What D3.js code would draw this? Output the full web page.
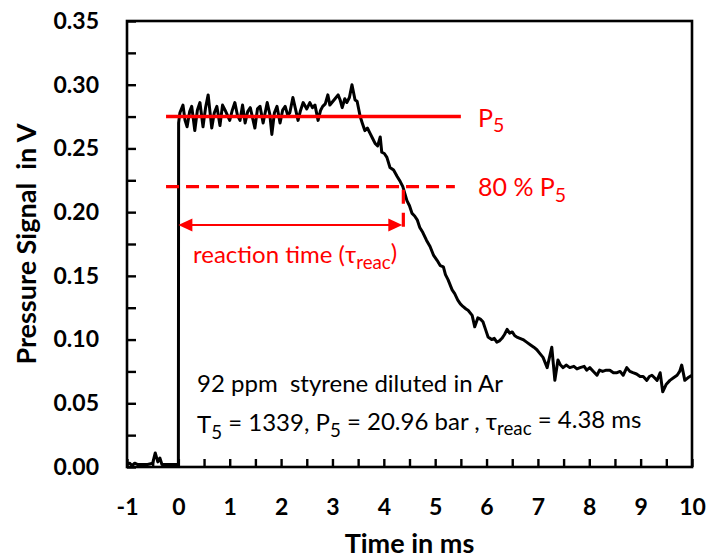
<!DOCTYPE html>
<html>
<head>
<meta charset="utf-8">
<script src="https://cdn.jsdelivr.net/npm/d3@7"></script>
<style>
  body { margin: 0; background: #fff; }
  svg { display: block; font-family: Lato, "Open Sans", sans-serif; }
  text { white-space: pre; }
</style>
</head>
<body>
<div id="chart"></div>
<script>
var width = 707,
    height = 559;

var margin = { top: 21, right: 15, bottom: 92, left: 127 };

// pressure trace
var timeMs = [
  -1.00, -0.95, -0.90, -0.85, -0.80, -0.70, -0.60, -0.50, -0.45, -0.40, -0.36, -0.32, -0.20, -0.05, 0.00,
  0.005, 0.03, 0.09, 0.13, 0.17, 0.22, 0.26, 0.32, 0.37, 0.42, 0.48, 0.53, 0.58, 0.65, 0.70, 0.75, 0.81, 0.86, 0.91,
  1.00, 1.05, 1.10, 1.15, 1.20, 1.25, 1.30, 1.35, 1.40, 1.45, 1.49, 1.54, 1.59, 1.65, 1.73, 1.78, 1.82, 1.87, 1.92, 1.98,
  2.03, 2.08, 2.13, 2.17, 2.23, 2.28, 2.33, 2.38, 2.43, 2.50, 2.56, 2.61, 2.66, 2.72, 2.77, 2.81, 2.86, 2.91, 2.95, 2.99,
  3.05, 3.11, 3.15, 3.19, 3.24, 3.28, 3.33, 3.38, 3.44, 3.48, 3.54, 3.58, 3.63, 3.68, 3.73, 3.78, 3.83, 3.88, 3.93, 3.96,
  4.01, 4.06, 4.12, 4.19, 4.26, 4.32, 4.37, 4.45, 4.50, 4.55, 4.60, 4.65, 4.70, 4.76, 4.83, 4.90, 4.97,
  5.04, 5.10, 5.16, 5.20, 5.25, 5.33, 5.38, 5.44, 5.49, 5.54, 5.60, 5.64, 5.72, 5.77, 5.83, 5.88, 5.93, 5.98,
  6.03, 6.10, 6.15, 6.20, 6.25, 6.30, 6.35, 6.40, 6.45, 6.50, 6.55, 6.59, 6.65, 6.71, 6.78, 6.85, 6.92, 6.98,
  7.04, 7.10, 7.18, 7.27, 7.33, 7.39, 7.44, 7.49, 7.55, 7.62, 7.70, 7.76, 7.82, 7.90, 7.95,
  8.01, 8.08, 8.15, 8.20, 8.26, 8.33, 8.40, 8.47, 8.54, 8.60, 8.66, 8.73, 8.79, 8.85, 8.92, 8.99,
  9.05, 9.12, 9.17, 9.22, 9.27, 9.32, 9.38, 9.43, 9.50, 9.57, 9.64, 9.71, 9.76, 9.80, 9.86, 9.92, 9.96, 10.00
];
var signalV = [
  0.002, 0.003, 0.001, 0.003, 0.002, 0.002, 0.002, 0.003, 0.011, 0.004, 0.007, 0.002, 0.002, 0.002, 0.002,
  0.270, 0.278, 0.284, 0.272, 0.267, 0.279, 0.283, 0.264, 0.280, 0.286, 0.267, 0.282, 0.292, 0.266, 0.278, 0.283, 0.268, 0.284, 0.280,
  0.272, 0.280, 0.286, 0.276, 0.272, 0.284, 0.270, 0.279, 0.282, 0.273, 0.266, 0.281, 0.283, 0.270, 0.286, 0.277, 0.261, 0.278, 0.283, 0.270,
  0.280, 0.283, 0.276, 0.278, 0.290, 0.281, 0.272, 0.280, 0.286, 0.281, 0.286, 0.282, 0.284, 0.272, 0.280, 0.283, 0.285, 0.292, 0.284, 0.286,
  0.289, 0.292, 0.288, 0.282, 0.289, 0.286, 0.290, 0.300, 0.288, 0.287, 0.275, 0.270, 0.264, 0.266, 0.262, 0.258, 0.254, 0.252, 0.259, 0.247,
  0.246, 0.243, 0.235, 0.233, 0.228, 0.224, 0.220, 0.209, 0.205, 0.199, 0.197, 0.194, 0.188, 0.184, 0.178, 0.173, 0.166,
  0.162, 0.158, 0.157, 0.151, 0.147, 0.139, 0.136, 0.131, 0.128, 0.126, 0.124, 0.123, 0.119, 0.110, 0.117, 0.116, 0.114, 0.108,
  0.102, 0.100, 0.101, 0.098, 0.099, 0.101, 0.104, 0.108, 0.105, 0.106, 0.103, 0.102, 0.101, 0.100, 0.098, 0.096, 0.094, 0.092,
  0.089, 0.086, 0.078, 0.094, 0.068, 0.084, 0.080, 0.078, 0.080, 0.078, 0.079, 0.077, 0.078, 0.079, 0.076,
  0.078, 0.075, 0.072, 0.076, 0.075, 0.076, 0.076, 0.074, 0.074, 0.075, 0.072, 0.078, 0.075, 0.074, 0.073, 0.071,
  0.071, 0.068, 0.071, 0.072, 0.070, 0.068, 0.074, 0.059, 0.065, 0.068, 0.070, 0.072, 0.075, 0.080, 0.068, 0.070, 0.071, 0.072
];

// axis ticks
var xTicks = [-1, 0, 1, 2, 3, 4, 5, 6, 7, 8, 9, 10];
var xMinorTicks = [-0.5, 0.5, 1.5, 2.5, 3.5, 4.5, 5.5, 6.5, 7.5, 8.5, 9.5];
var yTicks = [0, 0.05, 0.10, 0.15, 0.20, 0.25, 0.30, 0.35];
var yMinorTicks = [0.025, 0.075, 0.125, 0.175, 0.225, 0.275, 0.325];

// annotation values
var p5Level = 0.275;
var p80Level = 0.22;
var tauReac = 4.38;
var arrowLevel = 0.19;
var refLineStart = -0.24;
var refLineEnd = 5.5;

var w = width - margin.left - margin.right,
    h = height - margin.top - margin.bottom;

var x = d3.scaleLinear().domain([-1, 10]).range([0, w]);
var y = d3.scaleLinear().domain([0, 0.35]).range([h, 0]);

var svg = d3.select("#chart").append("svg")
    .attr("width", width)
    .attr("height", height);

var g = svg.append("g")
    .attr("transform", "translate(" + margin.left + "," + margin.top + ")");

// trace
var data = timeMs.map(function(t, i) { return [t, signalV[i]]; });

g.append("path")
    .datum(data)
    .attr("fill", "none")
    .attr("stroke", "#000")
    .attr("stroke-width", 3)
    .attr("stroke-linejoin", "round")
    .attr("d", d3.line().x(function(d) { return x(d[0]); }).y(function(d) { return y(d[1]); }));

// axes, ticks pointing inward
var xAxis = g.append("g")
    .attr("transform", "translate(0," + h + ")")
    .call(d3.axisBottom(x).tickValues(xTicks).tickSize(-8).tickSizeOuter(0).tickPadding(31)
      .tickFormat(function(d) { return String(d); }));

g.append("g")
    .attr("transform", "translate(0," + h + ")")
    .call(d3.axisBottom(x).tickValues(xMinorTicks).tickSize(-8).tickSizeOuter(0).tickFormat(""));

var yAxis = g.append("g")
    .call(d3.axisLeft(y).tickValues(yTicks).tickSize(-9).tickSizeOuter(0).tickPadding(28)
      .tickFormat(d3.format(".2f")));

g.append("g")
    .call(d3.axisLeft(y).tickValues(yMinorTicks).tickSize(-9).tickSizeOuter(0).tickFormat(""));

g.selectAll(".domain").remove();
g.selectAll(".tick line").attr("stroke", "#000").attr("stroke-width", 2.4);
g.selectAll(".tick text")
    .attr("fill", "#000")
    .style("font-family", "Lato, sans-serif")
    .style("font-size", "23px")
    .style("font-weight", "bold");
xAxis.selectAll(".tick text").attr("dy", "0.72em");

// frame
g.append("rect")
    .attr("width", w)
    .attr("height", h)
    .attr("fill", "none")
    .attr("stroke", "#000")
    .attr("stroke-width", 2.6);

// annotations
var red = "#ff0000";

g.append("line")
    .attr("x1", x(refLineStart)).attr("x2", x(refLineEnd))
    .attr("y1", y(p5Level)).attr("y2", y(p5Level))
    .attr("stroke", red).attr("stroke-width", 3.6);

g.append("line")
    .attr("x1", x(refLineStart)).attr("x2", x(refLineEnd) - 6)
    .attr("y1", y(p80Level)).attr("y2", y(p80Level))
    .attr("stroke", red).attr("stroke-width", 3.2)
    .attr("stroke-dasharray", "13,7");

g.append("line")
    .attr("x1", x(tauReac)).attr("x2", x(tauReac))
    .attr("y1", y(p80Level) + 3).attr("y2", y(arrowLevel) + 8)
    .attr("stroke", red).attr("stroke-width", 3.2)
    .attr("stroke-dasharray", "14,9");

g.append("line")
    .attr("x1", x(0) + 10).attr("x2", x(tauReac) - 10)
    .attr("y1", y(arrowLevel)).attr("y2", y(arrowLevel))
    .attr("stroke", red).attr("stroke-width", 2);

function arrowHead(tipX, dir) {
  var ay = y(arrowLevel);
  g.append("path")
      .attr("d", "M" + tipX + "," + ay + "L" + (tipX - dir * 14) + "," + (ay - 6.5) +
                 "L" + (tipX - dir * 14) + "," + (ay + 6.5) + "Z")
      .attr("fill", red);
}
arrowHead(x(0), -1);
arrowHead(x(tauReac) - 1, 1);

// text with subscripts: parts alternate normal / subscript
function subText(sel, parts) {
  parts.forEach(function(p, i) {
    var t = sel.append("tspan").text(p);
    if (i % 2 == 1) t.attr("dy", "0.3em").style("font-size", "0.78em");
    else if (i > 0) t.attr("dy", "-0.3em");
  });
}

subText(g.append("text")
    .attr("x", 351).attr("y", y(p5Level) + 10)
    .attr("fill", red).style("font-size", "25px"), ["P", "5"]);

subText(g.append("text")
    .attr("x", 351).attr("y", y(p80Level) + 9)
    .attr("fill", red).style("font-size", "25px"), ["80 % P", "5"]);

subText(g.append("text")
    .attr("x", 66).attr("y", y(arrowLevel) + 38)
    .attr("fill", red).style("font-size", "24px"), ["reaction time (τ", "reac", ")"]);

g.append("text")
    .attr("x", 70).attr("y", 371)
    .attr("fill", "#000").style("font-size", "24px")
    .text("92 ppm  styrene diluted in Ar");

subText(g.append("text")
    .attr("x", 70).attr("y", 412)
    .attr("fill", "#000").style("font-size", "24px"),
    ["T", "5", " = 1339, P", "5", " = 20.96 bar , τ", "reac", " = 4.38 ms"]);

// axis titles
svg.append("text")
    .attr("x", margin.left + w / 2)
    .attr("y", 553)
    .attr("text-anchor", "middle")
    .style("font-size", "27px").style("font-weight", "bold")
    .text("Time in ms");

svg.append("text")
    .attr("transform", "translate(36," + (margin.top + h / 2) + ") rotate(-90)")
    .attr("text-anchor", "middle")
    .style("font-size", "27px").style("font-weight", "bold")
    .text("Pressure Signal  in V");
</script>
</body>
</html>
